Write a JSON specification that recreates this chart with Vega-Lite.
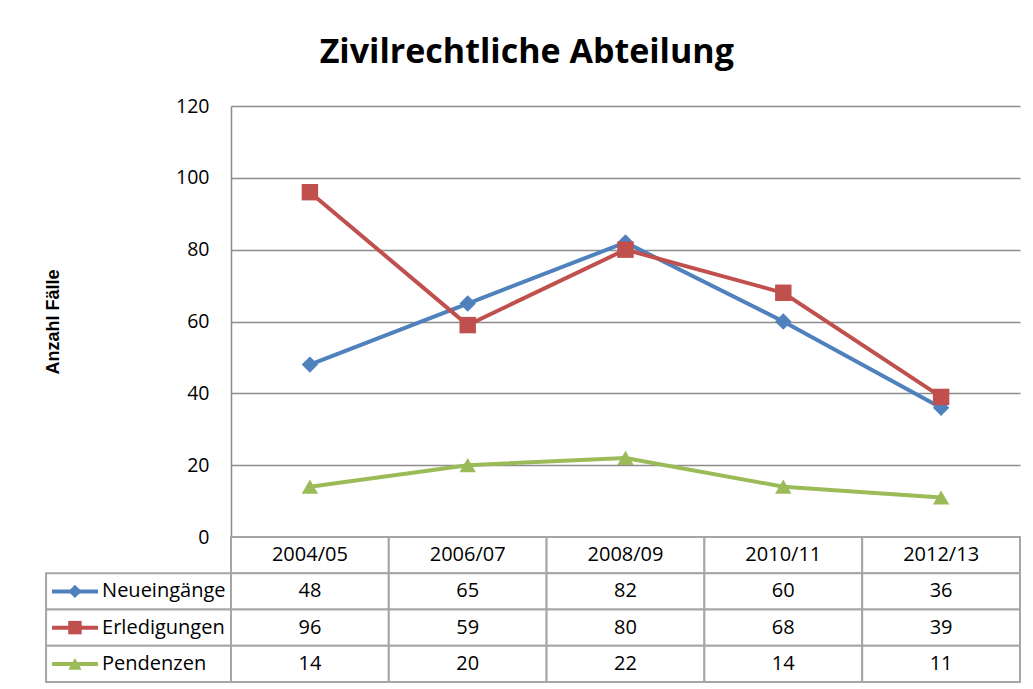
{
  "$schema": "https://vega.github.io/schema/vega-lite/v6.json",
  "padding": {"left": 44, "top": 36, "right": 5, "bottom": 5},
  "background": "white",
  "title": {"text": "Zivilrechtliche Abteilung", "fontSize": 34, "font": "Open Sans", "fontWeight": "bold", "anchor": "middle", "frame": "bounds", "offset": 26, "dx": -6, "color": "#000000"},
  "datasets": {
    "cases": [
      {"period": "2004/05", "series": "Neueingänge", "value": 48},
      {"period": "2006/07", "series": "Neueingänge", "value": 65},
      {"period": "2008/09", "series": "Neueingänge", "value": 82},
      {"period": "2010/11", "series": "Neueingänge", "value": 60},
      {"period": "2012/13", "series": "Neueingänge", "value": 36},
      {"period": "2004/05", "series": "Erledigungen", "value": 96},
      {"period": "2006/07", "series": "Erledigungen", "value": 59},
      {"period": "2008/09", "series": "Erledigungen", "value": 80},
      {"period": "2010/11", "series": "Erledigungen", "value": 68},
      {"period": "2012/13", "series": "Erledigungen", "value": 39},
      {"period": "2004/05", "series": "Pendenzen", "value": 14},
      {"period": "2006/07", "series": "Pendenzen", "value": 20},
      {"period": "2008/09", "series": "Pendenzen", "value": 22},
      {"period": "2010/11", "series": "Pendenzen", "value": 14},
      {"period": "2012/13", "series": "Pendenzen", "value": 11}
    ],
    "periods": [
      {"period": "2004/05"}, {"period": "2006/07"}, {"period": "2008/09"}, {"period": "2010/11"}, {"period": "2012/13"}
    ],
    "keys": [
      {"series": "Neueingänge"}, {"series": "Erledigungen"}, {"series": "Pendenzen"}
    ]
  },
  "config": {"view": {"stroke": null}, "font": "Open Sans"},
  "bounds": "flush",
  "spacing": 0,
  "resolve": {"scale": {"x": "independent", "y": "independent"}},
  "vconcat": [
    {
      "width": 789,
      "height": 431,
      "data": {"name": "cases"},
      "encoding": {
        "x": {"field": "period", "type": "nominal", "scale": {"type": "band", "paddingInner": 0, "paddingOuter": 0}, "axis": null},
        "y": {"field": "value", "type": "quantitative", "scale": {"domain": [0, 120], "nice": false},
          "axis": {"values": [0, 20, 40, 60, 80, 100, 120], "title": "Anzahl Fälle", "titleFont": "Liberation Sans", "titleFontSize": 18, "titleFontWeight": "bold", "titleColor": "#000000", "titlePadding": 113,
            "labelFont": "Open Sans", "labelFontSize": 19.5, "labelColor": "#000000", "labelPadding": 22, "ticks": false, "grid": true, "gridColor": "#8C8C8C", "gridWidth": 1.5, "domainColor": "#8C8C8C", "domainWidth": 1.5}},
        "color": {"field": "series", "type": "nominal", "scale": {"domain": ["Neueingänge", "Erledigungen", "Pendenzen"], "range": ["#4F81BD", "#C0504D", "#9BBB59"]}, "legend": null}
      },
      "layer": [
        {"mark": {"type": "line", "strokeWidth": 4}},
        {"mark": {"type": "point", "filled": true, "opacity": 1},
          "encoding": {
            "shape": {"field": "series", "type": "nominal", "scale": {"domain": ["Neueingänge", "Erledigungen", "Pendenzen"], "range": ["diamond", "square", "triangle-up"]}, "legend": null},
            "size": {"field": "series", "type": "ordinal", "scale": {"domain": ["Neueingänge", "Erledigungen", "Pendenzen"], "range": [270, 270, 380]}, "legend": null}
          }}
      ]
    },
    {
      "width": 789,
      "height": 145,
      "resolve": {"scale": {"x": "independent"}},
      "layer": [
        {
          "data": {"name": "periods"},
          "encoding": {
            "x": {"field": "period", "type": "nominal", "scale": {"type": "band", "paddingInner": 0, "paddingOuter": 0}, "axis": null},
            "y": {"datum": "hdr", "type": "nominal", "scale": {"type": "band", "domain": ["hdr", "Neueingänge", "Erledigungen", "Pendenzen"], "paddingInner": 0, "paddingOuter": 0}, "axis": null}
          },
          "layer": [
            {"mark": {"type": "rect", "fill": "white", "stroke": "#A6A6A6", "strokeWidth": 2}},
            {"mark": {"type": "text", "font": "Open Sans", "fontSize": 20, "color": "#000000"}, "encoding": {"text": {"field": "period"}}}
          ]
        },
        {
          "data": {"name": "cases"},
          "encoding": {
            "x": {"field": "period", "type": "nominal", "scale": {"type": "band", "paddingInner": 0, "paddingOuter": 0}, "axis": null},
            "y": {"field": "series", "type": "nominal", "scale": {"type": "band", "domain": ["hdr", "Neueingänge", "Erledigungen", "Pendenzen"], "paddingInner": 0, "paddingOuter": 0}, "axis": null}
          },
          "layer": [
            {"mark": {"type": "rect", "fill": "white", "stroke": "#A6A6A6", "strokeWidth": 2}},
            {"mark": {"type": "text", "font": "Open Sans", "fontSize": 20, "color": "#000000"}, "encoding": {"text": {"field": "value", "type": "quantitative"}}}
          ]
        },
        {
          "data": {"name": "keys"},
          "encoding": {
            "y": {"field": "series", "type": "nominal", "scale": {"type": "band", "domain": ["hdr", "Neueingänge", "Erledigungen", "Pendenzen"], "paddingInner": 0, "paddingOuter": 0}, "axis": null}
          },
          "layer": [
            {"mark": {"type": "rect", "fill": "white", "stroke": "#A6A6A6", "strokeWidth": 2, "clip": false},
              "encoding": {"x": {"datum": -1.172, "type": "quantitative", "scale": {"domain": [0, 5], "nice": false, "zero": false}, "axis": null}, "x2": {"datum": 0}}},
            {"mark": {"type": "rule", "strokeWidth": 4, "clip": false},
              "encoding": {"x": {"datum": -1.134, "type": "quantitative"}, "x2": {"datum": -0.843},
                "color": {"field": "series", "type": "nominal", "legend": null}}},
            {"mark": {"type": "point", "filled": true, "opacity": 1, "clip": false},
              "encoding": {"x": {"datum": -0.989, "type": "quantitative"},
                "color": {"field": "series", "type": "nominal", "legend": null},
                "shape": {"field": "series", "type": "nominal", "legend": null},
                "size": {"value": 180}}},
            {"mark": {"type": "text", "align": "left", "font": "Open Sans", "fontSize": 20, "color": "#000000", "clip": false},
              "encoding": {"x": {"datum": -0.817, "type": "quantitative"}, "text": {"field": "series"}}}
          ]
        }
      ]
    }
  ]
}
